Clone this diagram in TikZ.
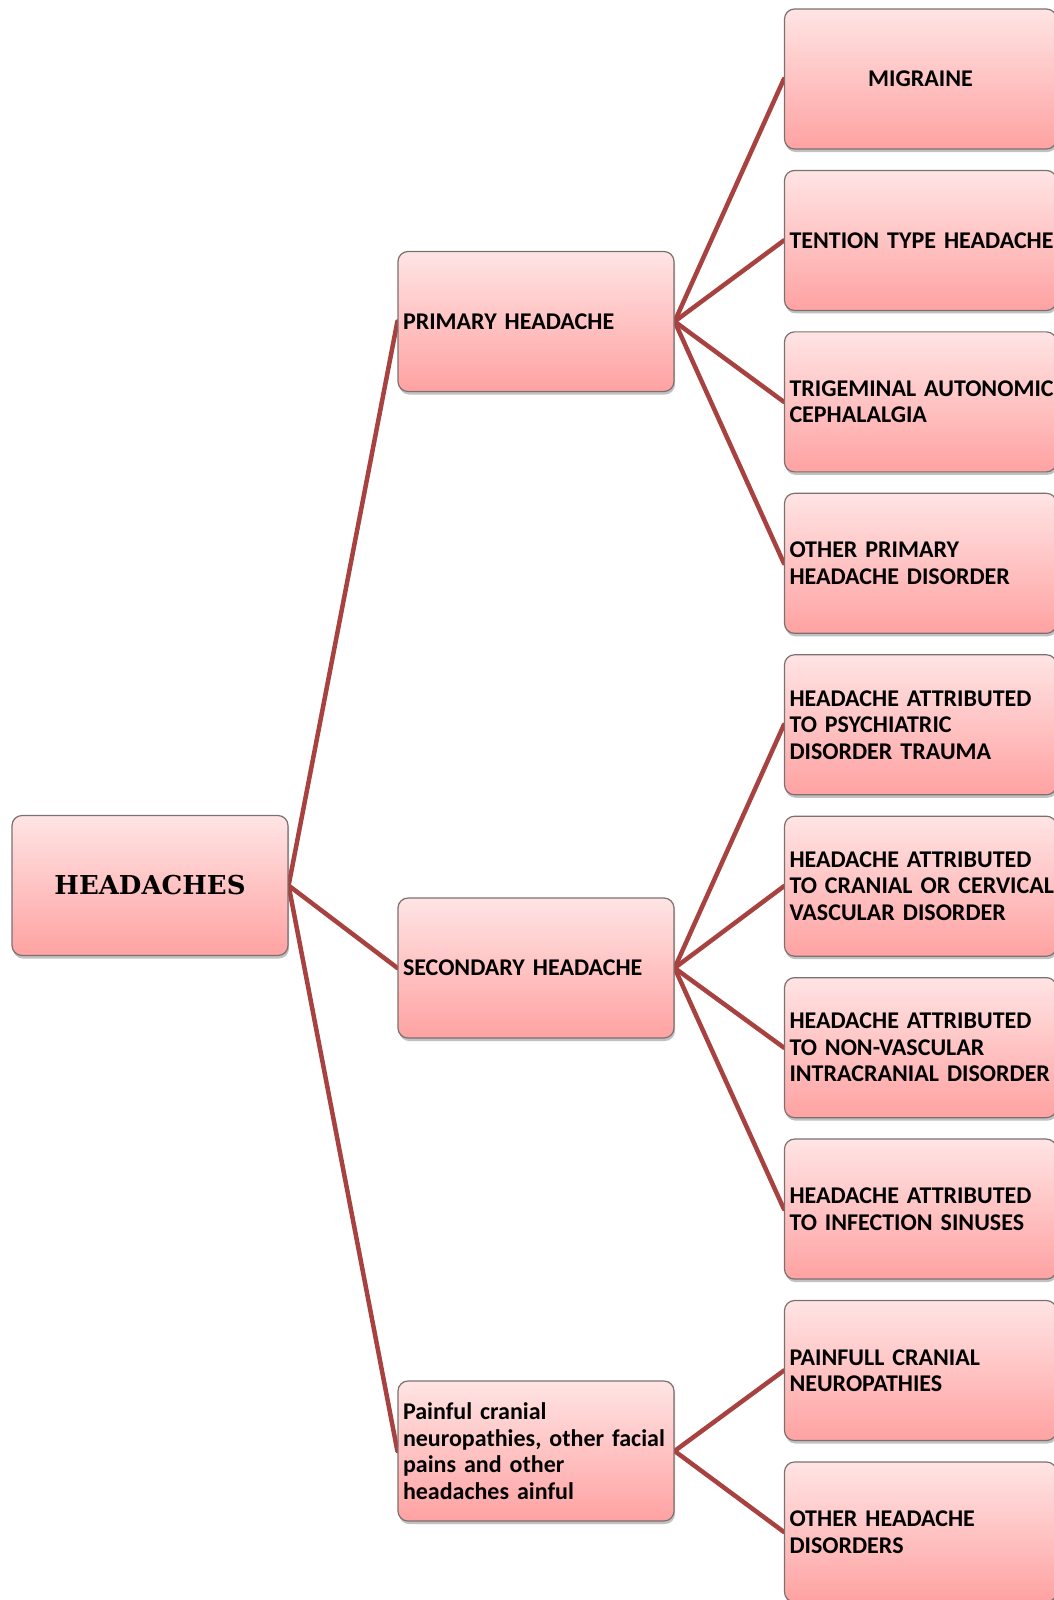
\documentclass[tikz,border=0pt]{standalone}
\usepackage{fontspec}
\setmainfont{Carlito}
\newfontfamily\rootfont{DejaVu Serif}
\usepackage{tikz}
\usetikzlibrary{shadows, backgrounds}

\definecolor{boxtop}{RGB}{255,228,228}
\definecolor{boxbot}{RGB}{255,162,162}
\definecolor{boxline}{RGB}{125,112,112}
\definecolor{linkred}{RGB}{168,66,64}

\newcommand{\boxfont}{\bfseries\fontsize{24}{26.5}\selectfont
  \spaceskip=4.2pt plus 1pt minus 1pt\hyphenpenalty=10000\relax}

\tikzset{
  basebox/.style={draw=boxline, line width=1.2pt, rounded corners=10pt,
    top color=boxtop, bottom color=boxbot, minimum height=140pt,
    inner xsep=5pt, inner ysep=0pt,
    drop shadow={shadow xshift=1pt, shadow yshift=-3pt, opacity=0.35, fill=black!70}},
  rootbox/.style={basebox, minimum width=276pt,
    font=\rootfont\bfseries\fontsize{26}{30}\selectfont},
  midbox/.style={basebox, text width=266pt, align=left, font=\boxfont},
  leafbox/.style={basebox, text width=262pt, align=left, font=\boxfont},
  link/.style={draw=linkred, line width=4.5pt, line cap=round}
}

\begin{document}
\begin{tikzpicture}[x=1pt, y=-1pt]
  % === page frame (pixel coordinates, y downwards) ===
  \useasboundingbox (0,0) rectangle (1054,1600);

  % === root ===
  \node[rootbox] (root) at (150,885.5) {HEADACHES};

  % === middle column ===
  \node[midbox] (prim) at (536,321.5) {PRIMARY HEADACHE};
  \node[midbox] (sec) at (536,968) {SECONDARY HEADACHE};
  \node[midbox] (pain) at (536,1451)
    {Painful cranial\\neuropathies, other facial\\pains and other\\headaches ainful};

  % === right column: 10 leaves, pitch 161.44 ===
  \node[leafbox, align=center] (leaf0) at (920.5,79) {MIGRAINE};
  \foreach \i/\txt in {
      1/{\mbox{TENTION TYPE HEADACHE}},
      2/{\mbox{TRIGEMINAL AUTONOMIC}\\CEPHALALGIA},
      3/{OTHER PRIMARY\\HEADACHE DISORDER},
      4/{HEADACHE ATTRIBUTED\\TO PSYCHIATRIC\\DISORDER TRAUMA},
      5/{HEADACHE ATTRIBUTED\\\mbox{TO CRANIAL OR CERVICAL}\\VASCULAR DISORDER},
      6/{HEADACHE ATTRIBUTED\\TO NON-VASCULAR\\\mbox{INTRACRANIAL DISORDER}},
      7/{HEADACHE ATTRIBUTED\\TO INFECTION SINUSES},
      8/{PAINFULL CRANIAL\\NEUROPATHIES},
      9/{OTHER HEADACHE\\DISORDERS}} {
    \pgfmathsetmacro{\yc}{79 + \i*161.44}
    \node[leafbox] (leaf\i) at (920.5,\yc) {\txt};
  }

  % === connectors (behind the boxes) ===
  \begin{scope}[on background layer]
    \foreach \p/\c in {root/prim, root/sec, root/pain,
        prim/leaf0, prim/leaf1, prim/leaf2, prim/leaf3,
        sec/leaf4, sec/leaf5, sec/leaf6, sec/leaf7,
        pain/leaf8, pain/leaf9}
      \draw[link] (\p.east) -- (\c.west);
  \end{scope}
\end{tikzpicture}
\end{document}
